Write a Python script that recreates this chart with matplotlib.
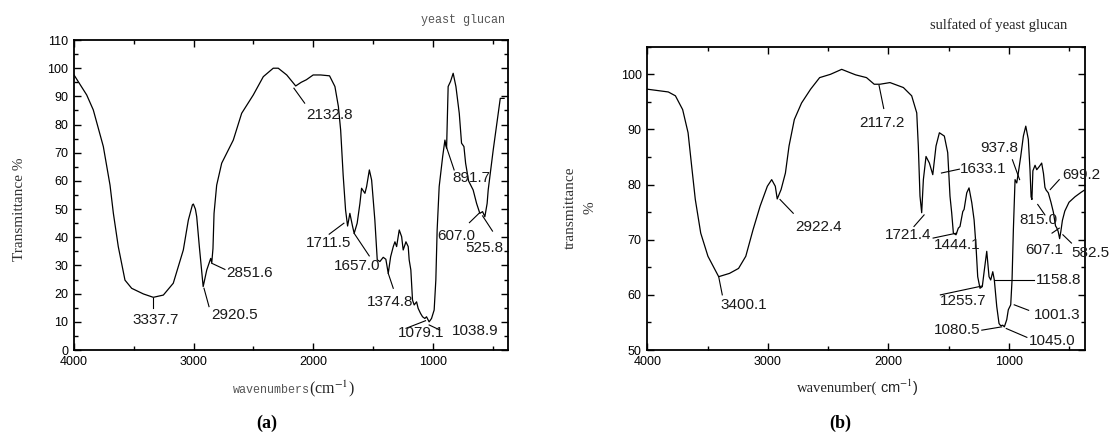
import numpy as np
import matplotlib
matplotlib.use("Agg")
import matplotlib.pyplot as plt
from matplotlib.ticker import MultipleLocator

plt.rcParams['font.family'] = ['Liberation Sans', 'DejaVu Sans']
plt.rcParams['mathtext.fontset'] = 'stix'

# (a) yeast glucan
wn_a = [4000, 3894, 3839, 3755, 3699, 3671, 3630, 3574, 3518, 3420, 3337, 3253, 3170,
        3086, 3044, 3010, 3002, 2985, 2974, 2952, 2920, 2890, 2857, 2848, 2838, 2829,
        2807, 2765, 2668, 2598, 2501, 2417, 2334, 2292, 2221, 2146, 2100, 2057, 2000,
        1937, 1863, 1818, 1789, 1770, 1749, 1729, 1712, 1693, 1670, 1657, 1632, 1609,
        1595, 1567, 1553, 1530, 1511, 1484, 1464, 1442, 1414, 1392, 1372, 1352, 1330,
        1316, 1302, 1280, 1260, 1247, 1224, 1205, 1197, 1183, 1169, 1155, 1135, 1122,
        1102, 1085, 1066, 1052, 1030, 1010, 988, 974, 963, 946, 917, 898, 884, 871,
        851, 829, 806, 778, 759, 739, 725, 700, 662, 633, 606, 583, 564, 545, 536,
        494, 435, 403]
tr_a = [97.6, 90.5, 85.2, 72.2, 58.5, 48.5, 36.7, 24.8, 21.9, 19.9, 18.7, 19.5, 23.7,
        35.5, 46.1, 51.5, 51.8, 50.0, 47.3, 36.7, 22.5, 28.4, 32.5, 31.0, 36.0, 48.5,
        58.5, 66.3, 74.5, 84.0, 90.5, 97.0, 100.0, 100.0, 97.6, 93.7, 95.0, 95.9, 97.6,
        97.6, 97.3, 93.5, 86.4, 78.0, 62.0, 49.7, 44.0, 48.5, 43.8, 41.4, 45.0, 52.0,
        57.4, 55.6, 58.0, 63.9, 60.3, 46.1, 32.0, 31.4, 32.9, 32.2, 27.2, 33.1, 36.7,
        38.4, 36.7, 42.6, 40.2, 35.5, 38.4, 36.7, 32.0, 28.4, 17.7, 16.0, 17.1, 14.8,
        13.0, 11.8, 11.2, 11.8, 10.0, 11.2, 14.2, 24.8, 42.6, 58.0, 68.6, 74.5, 71.6, 93.5,
        95.3, 98.2, 93.5, 84.0, 73.4, 72.2, 66.3, 60.0, 56.8, 52.0, 48.5, 49.1, 47.3, 52.0, 56.8,
        71.0, 89.3, 89.3]

# peak labels (a): text, text x, text y, leader x1, y1, x2, y2
lab_a = ["3337.7", "2920.5", "2851.6", "2132.8", "1711.5", "1657.0", "1374.8",
         "1079.1", "1038.9", "891.7", "607.0", "525.8"]
lab_a_pos = [(3510, 10.6), (2849, 12.4), (2725, 27.2), (2057, 83.4), (2063, 37.9),
             (1823, 29.8), (1553, 17.1), (1292, 5.9), (842, 6.9), (836, 60.9),
             (961, 40.5), (723, 36.1)]
lead_a = [(3337, 18.3, 3337, 14.8), (2913, 21.9, 2871, 15.4), (2849, 30.8, 2738, 28.6),
          (2161, 92.9, 2071, 87.6), (1866, 41.1, 1743, 45.0), (1657, 41.4, 1531, 33.4),
          (1372, 27.2, 1330, 21.9), (1223, 7.7, 1060, 10.4), (1030, 8.9, 941, 7.1),
          (896, 73.4, 821, 63.9), (693, 45.2, 613, 48.5), (583, 47.6, 500, 42.2)]

# (b) sulfated of yeast glucan
wn_b = [4000, 3826, 3767, 3707, 3662, 3632, 3602, 3557, 3497, 3408, 3318, 3243, 3183,
        3123, 3064, 3004, 2968, 2938, 2922, 2890, 2854, 2824, 2780, 2720, 2645, 2570,
        2480, 2387, 2318, 2271, 2181, 2117, 2069, 1986, 1875, 1806, 1764, 1751, 1737,
        1723, 1709, 1687, 1659, 1631, 1604, 1576, 1535, 1507, 1488, 1474, 1460, 1438,
        1419, 1405, 1382, 1371, 1349, 1330, 1307, 1288, 1272, 1258, 1239, 1220, 1203,
        1183, 1164, 1150, 1133, 1120, 1100, 1081, 1067, 1050, 1037, 1017, 1004, 984,
        973, 962, 948, 934, 921, 901, 879, 859, 838, 824, 815, 808, 800, 782, 768, 746,
        727, 712, 700, 690, 672, 650, 630, 612, 603, 590, 578, 568, 555, 535, 500, 450,
        400, 372]
tr_b = [97.3, 96.8, 96.1, 93.6, 89.4, 83.3, 77.3, 71.2, 67.0, 63.3, 63.9, 64.8, 67.0,
        71.8, 76.1, 79.7, 80.9, 79.7, 77.4, 79.1, 82.1, 87.0, 91.8, 94.8, 97.3, 99.4,
        100.0, 100.9, 100.3, 99.9, 99.4, 98.2, 98.2, 98.5, 97.6, 96.1, 93.0, 87.0, 77.9,
        74.9, 80.9, 85.1, 83.9, 81.8, 87.0, 89.4, 88.8, 85.8, 77.9, 74.9, 71.2, 70.9,
        72.1, 72.4, 75.1, 75.5, 78.5, 79.4, 76.7, 73.6, 68.8, 63.3, 61.2, 61.5, 64.5,
        67.9, 63.3, 62.7, 64.2, 62.7, 57.9, 54.8, 54.4, 54.5, 54.2, 55.5, 57.3, 58.2,
        62.7, 71.8, 80.9, 80.3, 82.1, 85.1, 88.8, 90.6, 88.2, 82.7, 77.8, 77.3, 82.5, 83.5, 82.7, 83.3,
        83.9, 82.0, 79.5, 79.0, 78.5, 76.8, 75.0, 72.5, 72.2, 71.5, 70.2, 71.5, 73.5, 75.2, 76.8, 77.8,
        78.6, 79.0]

lab_b = ["3400.1", "2922.4", "2117.2", "1721.4", "1633.1", "1444.1", "1255.7", "1158.8",
         "1080.5", "1045.0", "1001.3", "937.8", "815.0", "699.2", "607.1", "582.5"]
lab_b_pos = [(3393, 58.2), (2771, 72.4), (2241, 91.2), (2032, 70.9), (1404, 82.8),
             (1619, 69.1), (1568, 58.8), (775, 62.7), (1619, 53.6), (835, 51.7),
             (790, 56.4), (1239, 86.7), (910, 73.6), (560, 81.8), (865, 68.2), (478, 67.6)]
lead_b = [(3408, 63.3, 3378, 60.0), (2899, 77.3, 2789, 74.8), (2077, 98.0, 2038, 93.8),
          (1787, 72.4, 1703, 74.5), (1559, 82.1, 1410, 82.8), (1628, 70.3, 1433, 71.2),
          (1568, 60.0, 1224, 61.6), (1119, 62.7, 790, 62.7), (1224, 53.6, 1059, 54.2),
          (1021, 53.9, 850, 52.3), (955, 58.2, 835, 57.2), (970, 84.5, 910, 80.9),
          (760, 76.4, 700, 74.5), (656, 79.1, 581, 80.9), (641, 71.2, 581, 72.1),
          (551, 70.9, 480, 69.4)]

fig = plt.figure(figsize=(11.1, 4.36), dpi=100)
ax1 = fig.add_axes([0.0667, 0.1972, 0.391, 0.711])
ax2 = fig.add_axes([0.5832, 0.1972, 0.394, 0.6956])


def setup(ax, ymin, ymax):
    ax.set_xlim(4000, 370)
    ax.set_ylim(ymin, ymax)
    ax.xaxis.set_major_locator(MultipleLocator(1000))
    ax.xaxis.set_minor_locator(MultipleLocator(500))
    ax.yaxis.set_major_locator(MultipleLocator(10))
    ax.yaxis.set_minor_locator(MultipleLocator(5))
    ax.tick_params(which='both', direction='in', top=True, right=True,
                   labelsize=9, width=1.0, pad=4)
    ax.tick_params(which='major', length=5)
    ax.tick_params(which='minor', length=2.6)
    for s in ax.spines.values():
        s.set_linewidth(1.3)


setup(ax1, 0, 110)
setup(ax2, 50, 105)
ax1.set_yticks(np.arange(0, 111, 10))
ax2.set_yticks(np.arange(50, 101, 10))

ax1.plot(wn_a, tr_a, color='black', lw=0.9)
ax2.plot(wn_b, tr_b, color='black', lw=0.9)

for ax, labs, pos, leads in [(ax1, lab_a, lab_a_pos, lead_a), (ax2, lab_b, lab_b_pos, lead_b)]:
    for t, (tx, ty), (x1, y1, x2, y2) in zip(labs, pos, leads):
        ax.plot([x1, x2], [y1, y2], color='black', lw=0.8)
        ax.text(tx, ty, t, ha='left', va='center', fontsize=11, color='#1a1a1a',
                clip_on=False)

W, H = 1110, 436
# titles
fig.text(505 / W, 1 - 20 / H, "yeast glucan", family='Liberation Mono', fontsize=8.5,
         color='#555555', ha='right', va='center')
fig.text(1067 / W, 1 - 25 / H, "sulfated of yeast glucan", family='Liberation Serif',
         fontsize=10.5, color='#222222', ha='right', va='center')

# y labels
fig.text(19.7 / W, 1 - 209.5 / H, "Transmittance %", family='Liberation Serif',
         fontsize=11, rotation=90, ha='center', va='center', color='#333333')
fig.text(570.5 / W, 1 - 207.5 / H, "transmittance", family='Liberation Serif',
         fontsize=11, rotation=90, ha='center', va='center', color='#333333')
fig.text(589.5 / W, 1 - 207.5 / H, "%", family='Liberation Serif',
         fontsize=11, rotation=90, ha='center', va='center', color='#333333')

# x labels
fig.text(233 / W, 1 - 390 / H, "wavenumbers", family='Liberation Mono', fontsize=8.5,
         color='#555555', ha='left', va='center')
fig.text(309 / W, 1 - 389 / H, "(cm$^{-1}$)", family='Liberation Serif', fontsize=11.5,
         color='#222222', ha='left', va='center')
fig.text(797 / W, 1 - 388 / H, "wavenumber(", family='Liberation Serif', fontsize=10.5,
         color='#222222', ha='left', va='center')
fig.text(880 / W, 1 - 388 / H, "cm$^{-1}$)", family='Liberation Sans', fontsize=10.5,
         color='#222222', ha='left', va='center')

# panel letters
fig.text(267 / W, 1 - 423 / H, "(a)", family='Liberation Serif', fontweight='bold',
         fontsize=13, ha='center', va='center')
fig.text(840.5 / W, 1 - 423 / H, "(b)", family='Liberation Serif', fontweight='bold',
         fontsize=13, ha='center', va='center')

fig.savefig('out.png', dpi=100)
